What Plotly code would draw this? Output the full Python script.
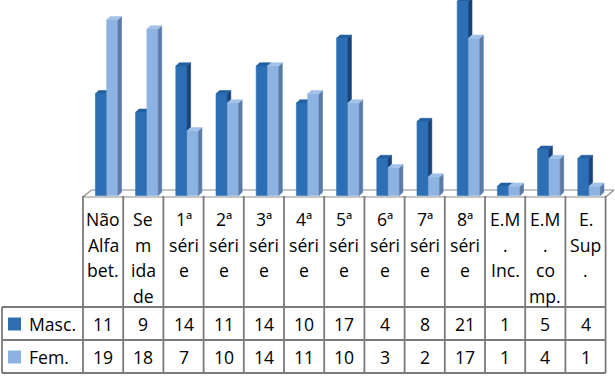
import plotly.graph_objects as go

# ---------------- data ----------------
categories = ["Não Alfabet.", "Sem idade", "1ª série", "2ª série", "3ª série",
              "4ª série", "5ª série", "6ª série", "7ª série", "8ª série",
              "E.M. Inc.", "E.M. comp.", "E. Sup."]
tick_labels = [["Não", "Alfa", "bet."], ["Se", "m", "ida", "de"],
               ["1ª", "séri", "e"], ["2ª", "séri", "e"], ["3ª", "séri", "e"],
               ["4ª", "séri", "e"], ["5ª", "séri", "e"], ["6ª", "séri", "e"],
               ["7ª", "séri", "e"], ["8ª", "séri", "e"],
               ["E.M", ".", "Inc."], ["E.M", ".", "co", "mp."], ["E.", "Sup", "."]]
series_names = ["Masc.", "Fem."]
masc = [11, 9, 14, 11, 14, 10, 17, 4, 8, 21, 1, 5, 4]
fem = [19, 18, 7, 10, 14, 11, 10, 3, 2, 17, 1, 4, 1]

# ---------------- layout geometry ----------------
W, H = 615, 378
X0PX = 83.0          # left edge of first category column (px)
COLW = 40.2          # column width (px)
FLOORPX = 195.5      # pixel row of value 0
UNIT = 9.25          # px per value unit

xmin = -0.5 - X0PX / COLW
xmax = xmin + W / COLW
ymax = FLOORPX / UNIT
ymin = ymax - H / UNIT


def xd(px):
    return xmin + px / COLW


def py(px):
    return 1 - px / H


FONT = "Open Sans"
FS = 17.6
GRID = "#7a7a7a"

colors = {
    "Masc.": dict(front="#2C6FB5", side="#17427A", top="#2361A3", key="#2E6EB0"),
    "Fem.": dict(front="#8DB3E2", side="#5B7BA6", top="#A3C2E8", key="#8BB2E0"),
}

BW = 11.3 / COLW
offsets = {"Masc.": -7.7 / COLW, "Fem.": 3.6 / COLW}
DX = 3.5 / COLW
DY = 3.2 / UNIT

fig = go.Figure()

# floor
fy = -(197 - FLOORPX) / UNIT
FDX = 8.5 / COLW
FDY = 7.0 / UNIT
n = len(categories)
fig.add_trace(go.Scatter(
    x=[-0.5, n - 0.5, n - 0.5 + FDX, -0.5 + FDX, -0.5],
    y=[fy, fy, fy + FDY, fy + FDY, fy],
    mode="lines", fill="toself", fillcolor="white",
    line=dict(color="#8c8c8c", width=1.2), hoverinfo="skip", showlegend=False))


def faces(vals, off):
    fx, fyy, sx, sy, tx, ty = [], [], [], [], [], []
    for i, v in enumerate(vals):
        x0 = i + off
        x1 = x0 + BW
        fx += [x0, x1, x1, x0, x0, None]
        fyy += [0, 0, v, v, 0, None]
        sx += [x1, x1 + DX, x1 + DX, x1, x1, None]
        sy += [0, DY, v + DY, v, 0, None]
        tx += [x0, x1, x1 + DX, x0 + DX, x0, None]
        ty += [v, v, v + DY, v + DY, v, None]
    return (fx, fyy), (sx, sy), (tx, ty)


for name, vals in zip(series_names, [masc, fem]):
    c = colors[name]
    fr, sd, tp = faces(vals, offsets[name])
    for (xx, yy), col in [(fr, c["front"]), (sd, c["side"]), (tp, c["top"])]:
        fig.add_trace(go.Scatter(
            x=xx, y=yy, mode="lines", fill="toself", fillcolor=col,
            line=dict(color=col, width=0.6), hoverinfo="skip", showlegend=False))

# ---------------- data table ----------------
shapes = []
ROW_TOP = 196
ROW_H1 = 307
ROW_H2 = 340
ROW_H3 = 373
LEFTPX = 2
RIGHT = n - 0.5
line = dict(color=GRID, width=1.8)
for yy in [ROW_H1, ROW_H2, ROW_H3]:
    shapes.append(dict(type="line", xref="x", yref="paper", x0=xd(LEFTPX), x1=RIGHT,
                       y0=py(yy), y1=py(yy), line=line))
for i in range(n + 1):
    shapes.append(dict(type="line", xref="x", yref="paper", x0=i - 0.5, x1=i - 0.5,
                       y0=py(ROW_TOP), y1=py(ROW_H3), line=line))
shapes.append(dict(type="line", xref="x", yref="paper", x0=xd(LEFTPX), x1=xd(LEFTPX),
                   y0=py(ROW_H1), y1=py(ROW_H3), line=line))

annotations = []
LINE0 = 219
LSP = 25.5
for i, lines in enumerate(tick_labels):
    for k, t in enumerate(lines):
        annotations.append(dict(xref="x", yref="paper", x=i, y=py(LINE0 + LSP * k),
                                text=t, showarrow=False, xanchor="center", yanchor="middle",
                                font=dict(family=FONT, size=FS, color="black")))

row_centers = {"Masc.": 324, "Fem.": 357}
for name, vals in zip(series_names, [masc, fem]):
    yc = row_centers[name]
    shapes.append(dict(type="rect", xref="x", yref="paper", x0=xd(8), x1=xd(21),
                       y0=py(yc - 6.5), y1=py(yc + 6.5), fillcolor=colors[name]["key"],
                       line=dict(width=0)))
    annotations.append(dict(xref="x", yref="paper", x=xd(26.5), y=py(yc), text=name,
                            showarrow=False, xanchor="left", yanchor="middle",
                            font=dict(family=FONT, size=FS, color="black")))
    for i, v in enumerate(vals):
        annotations.append(dict(xref="x", yref="paper", x=i, y=py(yc), text=str(v),
                                showarrow=False, xanchor="center", yanchor="middle",
                                font=dict(family=FONT, size=FS, color="black")))

fig.update_layout(
    width=W, height=H, margin=dict(l=0, r=0, t=0, b=0),
    paper_bgcolor="white", plot_bgcolor="white",
    xaxis=dict(range=[xmin, xmax], visible=False, fixedrange=True),
    yaxis=dict(range=[ymin, ymax], visible=False, fixedrange=True),
    shapes=shapes, annotations=annotations, showlegend=False,
)

fig.write_html("out.html")
